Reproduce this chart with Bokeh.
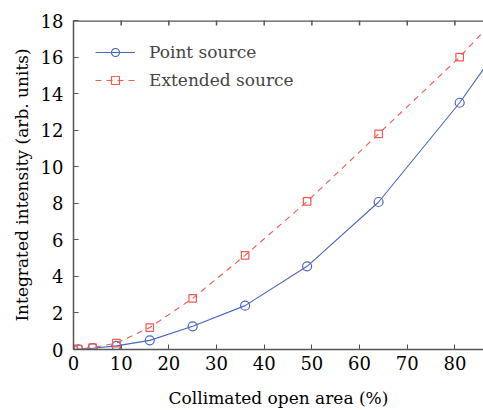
import math
from bokeh.plotting import figure
from bokeh.models import LinearAxis, Range1d, FixedTicker, Legend, LegendItem
from bokeh.embed import file_html
from bokeh.resources import INLINE

x_open_area = [0, 1, 4, 9, 16, 25, 36, 49, 64, 81, 100]
point_source = [0.0, 0.01, 0.07, 0.2, 0.5, 1.27, 2.4, 4.55, 8.07, 13.5, 20.5]
extended_source = [0.0, 0.02, 0.1, 0.35, 1.2, 2.8, 5.15, 8.1, 11.8, 16.0, 21.3]
x_ticks = [0, 10, 20, 30, 40, 50, 60, 70, 80]
y_ticks = [0, 2, 4, 6, 8, 10, 12, 14, 16, 18]
y_top = 18

FONT = "DejaVu Serif"
AXIS_COLOR = "#555555"
BLUE = "#4a66c0"
RED = "#ef5b50"

p = figure(width=483, height=410, output_backend="svg", toolbar_location=None,
           x_range=Range1d(0, 86), y_range=Range1d(0, y_top),
           min_border_left=73, min_border_top=20, min_border_bottom=60,
           min_border_right=0, x_axis_location=None, y_axis_location=None)
p.outline_line_color = None
p.xgrid.visible = False
p.ygrid.visible = False

def style(ax):
    ax.axis_line_color = AXIS_COLOR
    ax.axis_line_width = 1.5
    ax.major_tick_line_color = AXIS_COLOR
    ax.major_tick_in = 5
    ax.major_tick_out = 0
    ax.minor_tick_line_color = None
    ax.major_label_text_font = FONT
    ax.major_label_text_font_size = "18px"
    ax.major_label_text_color = "black"
    ax.axis_label_text_font = FONT
    ax.axis_label_text_font_size = "17px"
    ax.axis_label_text_font_style = "normal"
    ax.axis_label_text_color = "black"

xb = LinearAxis(ticker=FixedTicker(ticks=x_ticks), axis_label="Collimated open area (%)")
style(xb)
xb.major_label_standoff = 6
xb.axis_label_standoff = 15
p.add_layout(xb, "below")

yl = LinearAxis(ticker=FixedTicker(ticks=y_ticks), axis_label="Integrated intensity (arb. units)")
style(yl)
yl.major_label_standoff = 10
yl.axis_label_standoff = 6
p.add_layout(yl, "left")

# top frame line with inward ticks
p.line([0, 86], [y_top, y_top], line_color=AXIS_COLOR, line_width=2.5)
p.scatter(x_ticks[1:], [y_top] * (len(x_ticks) - 1), marker="dash", angle=math.pi / 2,
          size=10, line_color=AXIS_COLOR, line_width=1.5)

l1 = p.line(x_open_area, point_source, line_color=BLUE, line_width=1.1)
s1 = p.scatter(x_open_area, point_source, marker="circle", size=9,
               fill_color=None, line_color=BLUE, line_width=1.2)
l2 = p.line(x_open_area, extended_source, line_color=RED, line_width=1.1, line_dash="6 5")
s2 = p.scatter(x_open_area, extended_source, marker="square", size=7.5,
               fill_color=None, line_color=RED, line_width=1.2)

legend = Legend(items=[LegendItem(label="Point source", renderers=[l1, s1]),
                       LegendItem(label="Extended source", renderers=[l2, s2])],
                location="top_left")
legend.border_line_color = None
legend.background_fill_alpha = 0
legend.label_text_font = FONT
legend.label_text_font_size = "17px"
legend.glyph_width = 40
legend.glyph_height = 20
legend.label_standoff = 14
legend.spacing = 8
legend.margin = 22
legend.padding = 2
p.add_layout(legend)

open("out.html", "w").write(file_html(p, INLINE))
